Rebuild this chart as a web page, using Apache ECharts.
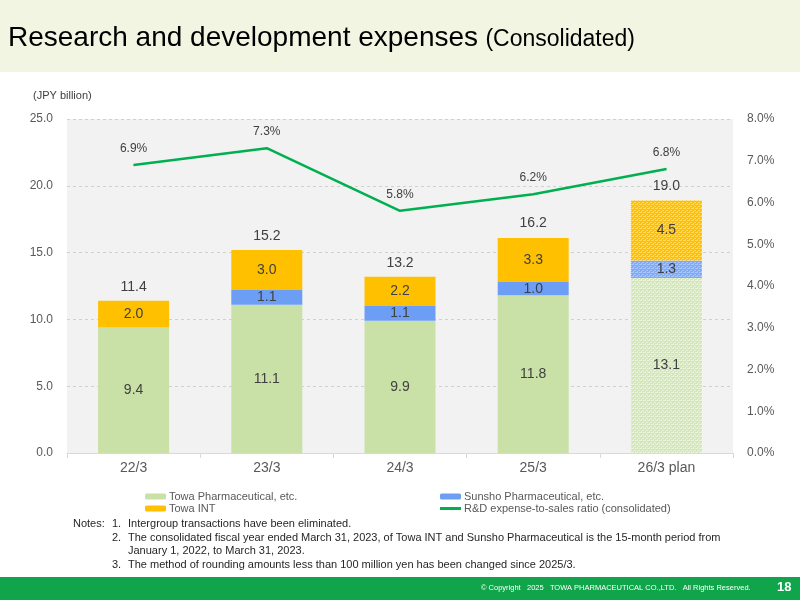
<!DOCTYPE html>
<html>
<head>
<meta charset="utf-8">
<script src="https://cdn.jsdelivr.net/npm/echarts@6/dist/echarts.min.js"></script>
<style>
  html, body { margin: 0; padding: 0; background: #fff; }
  #chart { width: 800px; height: 600px; }
</style>
</head>
<body>
<div id="chart"></div>
<script>
// fiscal years
const categories = ['22/3', '23/3', '24/3', '25/3', '26/3 plan']
// JPY billion
const towaPharma = [9.4, 11.1, 9.9, 11.8, 13.1]
const sunsho = [null, 1.1, 1.1, 1.0, 1.3]
const towaInt = [2.0, 3.0, 2.2, 3.3, 4.5]
const totals = [11.4, 15.2, 13.2, 16.2, 19.0]
// R&D expense-to-sales ratio, %
const ratio = [6.9, 7.3, 5.8, 6.2, 6.8]

const FONT = '"Liberation Sans", Arial, sans-serif'
const PLAN_INDEX = 4

// dotted fill used for the plan year
const makePattern = (base, dot) => {
  const c = document.createElement('canvas')
  c.width = 4
  c.height = 4
  const ctx = c.getContext('2d')
  ctx.fillStyle = base
  ctx.fillRect(0, 0, 4, 4)
  ctx.fillStyle = dot
  ctx.fillRect(0, 0, 2, 1)
  ctx.fillRect(2, 2, 2, 1)
  ctx.fillRect(3, 0, 1, 1)
  ctx.fillRect(1, 3, 1, 1)
  return { image: c, repeat: 'repeat' }
}

const withPlan = (values, pattern) => values.map((v, i) => (
  i === PLAN_INDEX ? { value: v, itemStyle: { color: pattern } } : v
))

const barLabel = {
  show: true,
  position: 'inside',
  color: '#404040',
  fontSize: 14,
  fontFamily: FONT,
  formatter: (p) => p.value == null ? '' : Number(p.value).toFixed(1)
}

const chart = echarts.init(document.getElementById('chart'))

const noteLines = [
  ['Notes:', '1.', 'Intergroup transactions have been eliminated.'],
  ['', '2.', 'The consolidated fiscal year ended March 31, 2023, of Towa INT and Sunsho Pharmaceutical is the 15-month period from'],
  ['', '', 'January 1, 2022, to March 31, 2023.'],
  ['', '3.', 'The method of rounding amounts less than 100 million yen has been changed since 2025/3.']
]
const noteY = [524, 538, 551, 565]
const noteGraphics = []
noteLines.forEach((line, i) => {
  const xs = [73, 112, 128]
  line.forEach((t, j) => {
    if (!t) return
    noteGraphics.push({
      type: 'text', left: xs[j], top: noteY[i] - 6,
      style: { text: t, font: '11px ' + FONT, fill: '#262626' }
    })
  })
})

const legendText = { color: '#595959', fontSize: 11, fontFamily: FONT, padding: [0, 0, 0, -2] }

chart.setOption({
  animation: false,
  textStyle: { fontFamily: FONT },
  graphic: [
    { type: 'rect', shape: { x: 0, y: 0, width: 800, height: 72 }, style: { fill: '#f2f5e2' }, z: -10 },
    {
      type: 'text', left: 8, top: 24,
      style: {
        text: '{a|Research and development expenses} {b|(Consolidated)}',
        rich: {
          a: { fontSize: 28, fontFamily: FONT, fill: '#000' },
          b: { fontSize: 23, fontFamily: FONT, fill: '#000', padding: [4, 0, 0, 4] }
        }
      }
    },
    {
      type: 'text', left: 33, top: 90,
      style: { text: '(JPY billion)', font: '11px ' + FONT, fill: '#404040' }
    },
    ...noteGraphics,
    { type: 'rect', shape: { x: 0, y: 577, width: 800, height: 23 }, style: { fill: '#10a54a' }, z: -10 },
    {
      type: 'text', left: 481, top: 584,
      style: {
        text: '© Copyright   2025   TOWA PHARMACEUTICAL CO.,LTD.   All Rights Reserved.',
        font: '7.5px ' + FONT, fill: '#ffffff'
      }
    },
    {
      type: 'text', left: 777, top: 581,
      style: { text: '18', font: 'bold 13px ' + FONT, fill: '#ffffff' }
    }
  ],
  grid: {
    left: 67, right: 67, top: 119, bottom: 147,
    show: true, backgroundColor: '#f2f2f2', borderWidth: 0
  },
  legend: [
    {
      left: 140, top: 486, orient: 'vertical', itemGap: 1,
      itemWidth: 21, itemHeight: 6,
      textStyle: legendText,
      data: ['Towa Pharmaceutical, etc.', 'Towa INT']
    },
    {
      left: 435, top: 486, orient: 'vertical', itemGap: 1,
      itemWidth: 21, itemHeight: 6,
      textStyle: legendText,
      data: [
        'Sunsho Pharmaceutical, etc.',
        { name: 'R&D expense-to-sales ratio (consolidated)', icon: 'path://M0,0H21V3H0Z' }
      ]
    }
  ],
  xAxis: {
    type: 'category',
    data: categories,
    axisLine: { lineStyle: { color: '#d9d9d9' } },
    axisTick: { show: true, length: 5, lineStyle: { color: '#d9d9d9' } },
    axisLabel: { color: '#595959', fontSize: 14, margin: 8 }
  },
  yAxis: [
    {
      type: 'value', min: 0, max: 25, interval: 5,
      axisLabel: { color: '#595959', fontSize: 12, margin: 14, formatter: (v) => v.toFixed(1) },
      splitLine: { lineStyle: { color: '#d0d0d0', type: [3, 3] } },
      axisLine: { show: false }, axisTick: { show: false }
    },
    {
      type: 'value', min: 0, max: 8, interval: 1,
      axisLabel: { color: '#595959', fontSize: 12, margin: 14, formatter: (v) => v.toFixed(1) + '%' },
      splitLine: { show: false },
      axisLine: { show: false }, axisTick: { show: false }
    }
  ],
  series: [
    {
      name: 'Towa Pharmaceutical, etc.', type: 'bar', stack: 'rd', barWidth: 71,
      itemStyle: { color: '#c9e0a7' },
      label: barLabel,
      data: withPlan(towaPharma, makePattern('#d3e6b8', '#eaf3de'))
    },
    {
      name: 'Sunsho Pharmaceutical, etc.', type: 'bar', stack: 'rd', barWidth: 71,
      itemStyle: { color: '#6d9ef5' },
      label: barLabel,
      data: withPlan(sunsho, makePattern('#7ea9f6', '#aac6fa'))
    },
    {
      name: 'Towa INT', type: 'bar', stack: 'rd', barWidth: 71,
      itemStyle: { color: '#ffc000' },
      label: barLabel,
      data: withPlan(towaInt, makePattern('#ffc000', '#ffd968'))
    },
    {
      name: 'total', type: 'scatter', symbolSize: 1,
      itemStyle: { color: 'rgba(0,0,0,0)', opacity: 1 },
      label: {
        show: true, position: 'top', distance: 6, color: '#404040', fontSize: 14,
        formatter: (p) => p.value.toFixed(1)
      },
      data: totals,
      z: 5
    },
    {
      name: 'R&D expense-to-sales ratio (consolidated)', type: 'line', yAxisIndex: 1,
      symbol: 'circle', symbolSize: 1, showSymbol: true,
      lineStyle: { color: '#00b050', width: 2.5 },
      itemStyle: { color: '#00b050' },
      label: {
        show: true, position: 'top', distance: 10, color: '#404040', fontSize: 12,
        formatter: (p) => p.value.toFixed(1) + '%'
      },
      data: ratio
    }
  ]
})
</script>
</body>
</html>
